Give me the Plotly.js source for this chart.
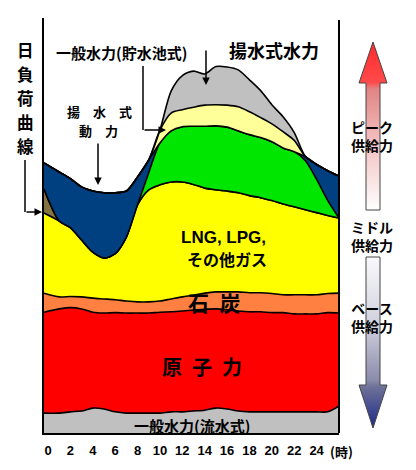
<!DOCTYPE html>
<html>
<head>
<meta charset="utf-8">
<script src="https://cdn.plot.ly/plotly-3.0.1.min.js"></script>
<style>
  html, body { margin: 0; padding: 0; background: #fff; }
  #chart { width: 416px; height: 470px; }
</style>
</head>
<body>
<div id="chart"></div>
<script>
// Daily load curve: hour of day and the output of each source (stacked, bottom to top)
const hours = [-0.36, 1, 2, 3, 4, 5, 6, 7, 8, 9, 10, 11, 12, 13, 14, 15, 16, 17, 18, 19, 20, 21, 22, 23, 24, 25, 26];
const tickHours = [0, 2, 4, 6, 8, 10, 12, 14, 16, 18, 20, 22, 24];

const hydroRunOfRiver = [4.8, 4.8, 5.1, 5.3, 6.0, 5.8, 5.1, 4.8, 4.8, 4.8, 4.8, 5.1, 5.1, 5.3, 5.5, 6.0, 5.8, 5.3, 5.1, 5.1, 5.1, 5.1, 5.1, 5.1, 5.1, 5.1, 6.5];
const nuclear = [24.3, 25.1, 25.1, 24.6, 23.1, 23.1, 23.9, 24.1, 24.1, 24.1, 24.3, 24.1, 24.3, 24.3, 24.3, 23.9, 23.9, 24.1, 24.1, 24.1, 23.9, 23.9, 23.6, 23.6, 23.6, 23.9, 22.4];
const coal = [4.6, 2.9, 2.7, 2.9, 3.4, 3.4, 3.1, 2.9, 2.7, 2.7, 2.7, 3.1, 3.4, 3.6, 3.9, 4.1, 4.3, 4.6, 4.6, 4.6, 4.6, 4.3, 4.6, 4.6, 4.6, 4.6, 4.8];
const gas = [19.3, 18.3, 16.6, 13.7, 11.1, 9.9, 11.1, 15.4, 23.4, 27.0, 28.0, 28.2, 27.7, 26.7, 25.3, 24.6, 24.3, 23.9, 23.4, 22.9, 22.4, 21.9, 21.2, 20.5, 19.8, 18.8, 18.1];
const oilNight = [5.8, 0, 0, 0, 0, 0, 0, 0, 0, 0, 0, 0, 0, 0, 0, 0, 0, 0, 0, 0, 0, 0, 0, 0, 0, 0, 0];
const oil = [0, 0, 0, 0, 0, 0, 0, 0, 0, 4.1, 10.1, 12.3, 13.3, 14.0, 14.9, 15.4, 15.4, 14.9, 14.7, 14.5, 14.2, 13.5, 13.3, 11.8, 8.0, 3.6, 0];
const pumpingLoad = [6.3, 11.8, 11.8, 12.8, 14.7, 15.7, 14.7, 11.1, 6.7, 3.1, 0, 0, 0, 0, 0, 0, 0, 0, 0, 0, 0, 0, 0, 1.0, 3.6, 7.2, 10.1];
const hydroReservoir = [0, 0, 0, 0, 0, 0, 0, 0, 0, 0, 3.1, 4.3, 4.1, 4.6, 5.1, 5.1, 5.3, 5.8, 5.5, 4.8, 4.3, 3.9, 2.7, 0, 0, 0, 0];
const pumpedHydro = [0, 0, 0, 0, 0, 0, 0, 0, 0, 0, 0, 5.3, 8.2, 8.7, 7.5, 9.2, 9.2, 8.9, 7.7, 6.5, 4.6, 3.6, 1.9, 0, 0, 0, 0];

const curveTitle = ['日', '負', '荷', '曲', '線'];

const JP = '"Noto Sans CJK JP", "Noto Sans", sans-serif';
const LATIN = '"Liberation Sans", Arial, sans-serif';

function layer(name, values, color) {
  return {
    name: name, x: hours, y: values, type: 'scatter', mode: 'lines',
    stackgroup: 'load', fillcolor: color,
    line: { color: '#000', width: 1.6, shape: 'spline', smoothing: 0.8 },
    hoverinfo: 'skip', showlegend: false, xaxis: 'x', yaxis: 'y'
  };
}

const traces = [
  layer('一般水力(流水式)', hydroRunOfRiver, '#c0c0c0'),
  layer('原子力', nuclear, '#ff0000'),
  layer('石炭', coal, '#ff8040'),
  layer('LNG, LPG, その他ガス', gas, '#ffff00'),
  layer('石油(夜間)', oilNight, '#857443'),
  layer('石油', oil, '#00e600'),
  layer('揚水式動力', pumpingLoad, '#004080'),
  layer('一般水力(貯水池式)', hydroReservoir, '#ffff99'),
  layer('揚水式水力', pumpedHydro, '#c0c0c0')
];

// Supply-type arrows at the right (drawn in a page-pixel coordinate frame)
traces.push({
  x: [373, 387, 380, 380, 366, 366, 359, 373],
  y: [42, 83, 83, 210, 210, 83, 83, 42],
  type: 'scatter', mode: 'lines', fill: 'toself',
  fillgradient: { type: 'vertical', start: 210, stop: 42,
    colorscale: [[0, '#ffffff'], [0.45, '#f2b8b8'], [0.72, '#e08484'], [0.76, '#ff4a4a'], [1, '#ff2a2a']] },
  line: { color: '#444', width: 1 }, hoverinfo: 'skip', showlegend: false,
  xaxis: 'x2', yaxis: 'y2'
});
traces.push({
  x: [366, 380, 380, 387, 373, 359, 366, 366],
  y: [257, 257, 385, 385, 428, 385, 385, 257],
  type: 'scatter', mode: 'lines', fill: 'toself',
  fillgradient: { type: 'vertical', start: 257, stop: 428,
    colorscale: [[0, '#fafafd'], [0.4, '#cfd0dc'], [0.72, '#8a8cab'], [0.76, '#6e7198'], [1, '#1c2a88']] },
  line: { color: '#444', width: 1 }, hoverinfo: 'skip', showlegend: false,
  xaxis: 'x2', yaxis: 'y2'
});

function note(text, x, y, size, extra) {
  return Object.assign({
    text: text, x: x, y: y, xref: 'x2', yref: 'y2', showarrow: false,
    xanchor: 'center', yanchor: 'middle',
    font: { family: JP, size: size, color: '#000', weight: 'bold' }
  }, extra || {});
}
function pointer(x, y, ax, ay) {
  return {
    text: '', x: x, y: y, ax: ax, ay: ay, xref: 'x2', yref: 'y2', axref: 'x2', ayref: 'y2',
    showarrow: true, arrowhead: 2, arrowsize: 1, arrowwidth: 1.5, arrowcolor: '#000', standoff: 0, startstandoff: 0
  };
}

const SP = '\u2002';
const annotations = curveTitle.map((ch, i) => note(ch, 25, 50 + i * 24, 16.5)).concat([
  note('一般水力(貯水池式)', 121, 52, 15),
  note('揚水式水力', 274, 50, 18),
  note('揚\u3000水\u3000式', 99, 111, 13),
  note('動\u3000力', 98, 130, 13),
  note('LNG, LPG,', 223, 237, 17, { font: { family: LATIN, size: 17, color: '#000', weight: 'bold' } }),
  note('その他ガス', 227, 258.5, 16),
  note('石' + SP + '炭', 214, 302, 21),
  note('原' + SP + '子' + SP + '力', 202, 366, 20),
  note('一般水力(流水式)', 192, 425, 15),
  note('(時)', 341, 451, 13),
  note('ピーク<br>供給力', 372, 136, 14),
  note('ミドル<br>供給力', 372, 236, 14),
  note('ベース<br>供給力', 372, 316.5, 14),
  pointer(42, 212, 25, 212),
  pointer(166, 130, 143, 130),
  pointer(206, 85, 206, 49),
  pointer(98, 185, 98, 142)
]);

const shapes = [
  { type: 'line', xref: 'x2', yref: 'y2', x0: 339, x1: 339, y0: 20, y1: 433, line: { color: '#000', width: 2 } },
  { type: 'path', xref: 'x2', yref: 'y2', path: 'M25,160 L25,212', line: { color: '#000', width: 1.5 } },
  { type: 'path', xref: 'x2', yref: 'y2', path: 'M143,66 L143,130', line: { color: '#000', width: 1.5 } }
];

const layout = {
  width: 416, height: 470,
  margin: { l: 0, r: 0, t: 0, b: 0 },
  paper_bgcolor: '#ffffff', plot_bgcolor: 'rgba(0,0,0,0)',
  showlegend: false,
  xaxis: {
    domain: [44 / 416, 339 / 416], range: [-0.36, 26], anchor: 'y',
    showgrid: false, zeroline: false, showline: true, linecolor: '#000', linewidth: 2,
    ticks: '', tickmode: 'array', tickvals: tickHours, ticktext: tickHours.map(String),
    ticklabelstandoff: 4,
    tickfont: { family: LATIN, size: 13, color: '#000', weight: 'bold' }, fixedrange: true
  },
  yaxis: {
    domain: [37 / 470, 452 / 470], range: [0, 100], anchor: 'x',
    showgrid: false, zeroline: false, showline: true, linecolor: '#000', linewidth: 2,
    ticks: '', showticklabels: false, fixedrange: true
  },
  xaxis2: { domain: [0, 1], range: [0, 416], anchor: 'y2', visible: false, fixedrange: true },
  yaxis2: { domain: [0, 1], range: [470, 0], anchor: 'x2', visible: false, fixedrange: true },
  annotations: annotations,
  shapes: shapes
};

Plotly.newPlot('chart', traces, layout, { displayModeBar: false, staticPlot: true });
</script>
</body>
</html>
